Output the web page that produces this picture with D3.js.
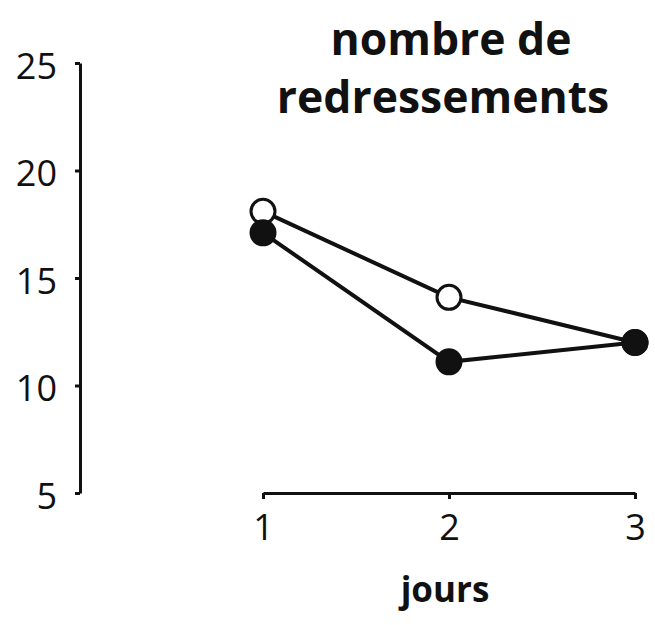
<!DOCTYPE html>
<html><head><meta charset="utf-8">
<script src="https://cdn.jsdelivr.net/npm/d3@7"></script>
<style>body{margin:0;background:#fff}</style>
</head><body>
<svg id="c" width="655" height="625"></svg>
<script>
const days = [1, 2, 3];
const openSeries = [18.1, 14.1, 12.0];
const filledSeries = [17.1, 11.1, 12.0];
const yTicks = [5, 10, 15, 20, 25];
const xTicks = [1, 2, 3];
const titleLines = ["nombre de", "redressements"];
const xLabel = "jours";

const svg = d3.select("#c");
const x = d3.scaleLinear().domain([1, 3]).range([263, 635]);
const y = d3.scaleLinear().domain([5, 25]).range([493, 63]);

// Y axis
const gy = svg.append("g").attr("transform", "translate(80,0)")
  .call(d3.axisLeft(y).tickValues(yTicks).tickSize(5).tickPadding(18).tickSizeOuter(0));
gy.select(".domain").attr("stroke", "#111").attr("stroke-width", 3);
gy.selectAll(".tick line").attr("stroke", "#111").attr("stroke-width", 3);
gy.selectAll(".tick text").attr("font-family", "Open Sans").attr("font-weight", 400).attr("font-size", 36)
  .attr("fill", "#111").attr("dy", "0.42em");

// X axis
const gx = svg.append("g").attr("transform", "translate(0,493)")
  .call(d3.axisBottom(x).tickValues(xTicks).tickFormat(d3.format("d")).tickSize(6).tickPadding(15).tickSizeOuter(0));
gx.select(".domain").attr("stroke", "#111").attr("stroke-width", 3);
gx.selectAll(".tick line").attr("stroke", "#111").attr("stroke-width", 3);
gx.selectAll(".tick text").attr("font-family", "Open Sans").attr("font-weight", 400).attr("font-size", 36)
  .attr("fill", "#111");

// Title
svg.append("text").attr("x", 451).attr("y", 55).attr("text-anchor", "middle")
  .attr("font-family", "Open Sans").attr("font-weight", "bold").attr("font-size", 44.5)
  .attr("fill", "#111").text(titleLines[0]);
svg.append("text").attr("x", 443).attr("y", 113).attr("text-anchor", "middle")
  .attr("font-family", "Open Sans").attr("font-weight", "bold").attr("font-size", 44.5)
  .attr("fill", "#111").text(titleLines[1]);

// X label
svg.append("text").attr("x", 445).attr("y", 602).attr("text-anchor", "middle")
  .attr("font-family", "Open Sans").attr("font-weight", "bold").attr("font-size", 35)
  .attr("fill", "#111").text(xLabel);

const line = d3.line().x((d, i) => x(days[i])).y(d => y(d));
svg.append("path").datum(openSeries).attr("d", line).attr("fill", "none")
  .attr("stroke", "#111").attr("stroke-width", 4);
svg.append("path").datum(filledSeries).attr("d", line).attr("fill", "none")
  .attr("stroke", "#111").attr("stroke-width", 4);

svg.append("g").selectAll("circle").data(openSeries).join("circle")
  .attr("cx", (d, i) => x(days[i])).attr("cy", d => y(d)).attr("r", 12)
  .attr("fill", "#fff").attr("stroke", "#111").attr("stroke-width", 3);
svg.append("g").selectAll("circle").data(filledSeries).join("circle")
  .attr("cx", (d, i) => x(days[i])).attr("cy", d => y(d)).attr("r", 12.5)
  .attr("fill", "#111").attr("stroke", "#111").attr("stroke-width", 2);
</script>
</body></html>
